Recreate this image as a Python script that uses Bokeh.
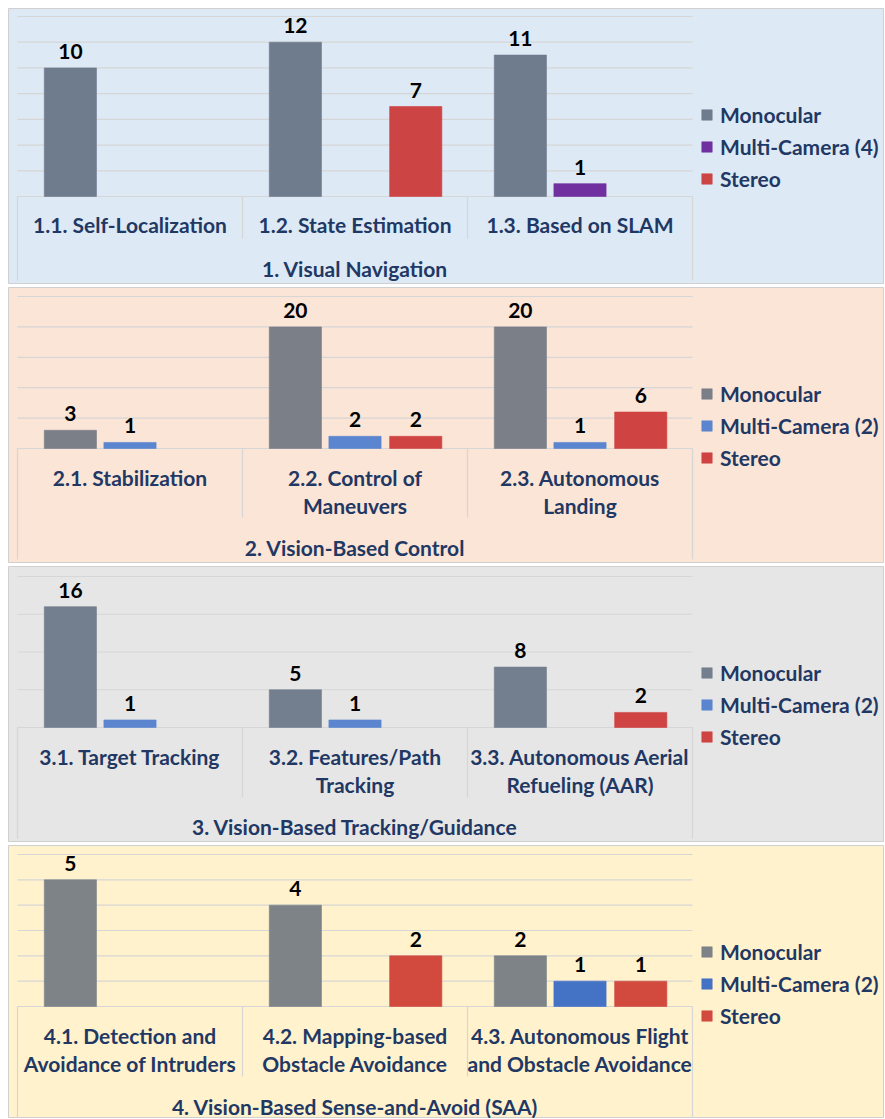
from bokeh.plotting import figure
from bokeh.models import Range1d, ColumnDataSource, Legend, LegendItem
from bokeh.layouts import column
from bokeh.embed import file_html
from bokeh.resources import INLINE
from bokeh.core.properties import value

# ---------------- data ----------------
series = ["Monocular", "Multi-Camera", "Stereo"]

p1_group = "1. Visual Navigation"
p1_categories = ["1.1. Self-Localization", "1.2. State Estimation", "1.3. Based on SLAM"]
p1_monocular = [10, 12, 11]
p1_multi = [0, 0, 1]
p1_stereo = [0, 7, 0]
p1_multi_name = "Multi-Camera (4)"
p1_ymax, p1_step = 14, 2

p2_group = "2. Vision-Based Control"
p2_categories = ["2.1. Stabilization", "2.2. Control of\nManeuvers", "2.3. Autonomous\nLanding"]
p2_monocular = [3, 20, 20]
p2_multi = [1, 2, 1]
p2_stereo = [0, 2, 6]
p2_multi_name = "Multi-Camera (2)"
p2_ymax, p2_step = 25, 5

p3_group = "3. Vision-Based Tracking/Guidance"
p3_categories = ["3.1. Target Tracking", "3.2. Features/Path\nTracking", "3.3. Autonomous Aerial\nRefueling (AAR)"]
p3_monocular = [16, 5, 8]
p3_multi = [1, 1, 0]
p3_stereo = [0, 0, 2]
p3_multi_name = "Multi-Camera (2)"
p3_ymax, p3_step = 20, 5

p4_group = "4. Vision-Based Sense-and-Avoid (SAA)"
p4_categories = ["4.1. Detection and\nAvoidance of Intruders", "4.2. Mapping-based\nObstacle Avoidance", "4.3. Autonomous Flight\nand Obstacle Avoidance"]
p4_monocular = [5, 4, 2]
p4_multi = [0, 0, 1]
p4_stereo = [0, 2, 1]
p4_multi_name = "Multi-Camera (2)"
p4_ymax, p4_step = 6, 1

# ---------------- styling ----------------
W = 876
CAT_PX = 225.0
LEFT_PX = 9.0
NAVY = "#1f3864"
FONT = "Lato"
LINE = "#d6d6d6"
OFFSETS = [-0.265, 0.0, 0.27]
BAR_W = 0.232

panels = [
    dict(group=p1_group, cats=p1_categories, vals=[p1_monocular, p1_multi, p1_stereo],
         multi=p1_multi_name, ymax=p1_ymax, step=p1_step,
         bg="#dde9f5", colors=["#6f7c8d", "#7030a0", "#cc4444"],
         h=276, gt=8, base=188, lab=216, sep=230, grp=260, tb=272),
    dict(group=p2_group, cats=p2_categories, vals=[p2_monocular, p2_multi, p2_stereo],
         multi=p2_multi_name, ymax=p2_ymax, step=p2_step,
         bg="#fbe5d6", colors=["#7b7f88", "#5b85cf", "#d04343"],
         h=276, gt=9, base=161, lab=190, sep=230, grp=260, tb=272),
    dict(group=p3_group, cats=p3_categories, vals=[p3_monocular, p3_multi, p3_stereo],
         multi=p3_multi_name, ymax=p3_ymax, step=p3_step,
         bg="#e7e6e6", colors=["#737f8e", "#5b85cf", "#cf4343"],
         h=276, gt=10, base=161, lab=190, sep=231, grp=260, tb=272),
    dict(group=p4_group, cats=p4_categories, vals=[p4_monocular, p4_multi, p4_stereo],
         multi=p4_multi_name, ymax=p4_ymax, step=p4_step,
         bg="#fff2cc", colors=["#7d8387", "#4472c4", "#d24a3e"],
         h=273, gt=9, base=161, lab=190, sep=231, grp=261, tb=273),
]

LINE_GAP = 27.5
FS_LABEL = "21px"
FS_VALUE = "21px"
FS_LEGEND = "21px"

figs = []
for P in panels:
    H = P["h"]
    upp = P["ymax"] / (P["base"] - P["gt"])  # data units per pixel
    y0 = -(H - P["base"]) * upp
    y1 = P["ymax"] + P["gt"] * upp
    ncat = len(P["cats"])
    x0 = -LEFT_PX / CAT_PX
    x1 = (W - LEFT_PX) / CAT_PX

    p = figure(width=W, height=H, x_range=Range1d(x0, x1), y_range=Range1d(y0, y1),
               x_axis_location=None, y_axis_location=None,
               toolbar_location=None, output_backend="svg",
               min_border=0, min_border_left=0, min_border_right=0,
               min_border_top=0, min_border_bottom=0)
    p.background_fill_color = P["bg"]
    p.border_fill_color = P["bg"]
    p.outline_line_color = "#d0d0d0"
    p.xgrid.visible = False
    p.ygrid.visible = False

    # grid lines
    ticks = list(range(0, P["ymax"] + 1, P["step"]))
    p.segment(x0=[0] * len(ticks), x1=[ncat] * len(ticks), y0=ticks, y1=ticks,
              line_color=LINE, line_width=1.2)

    # table lines
    sep_y = -(P["sep"] - P["base"]) * upp
    tb_y = -(P["tb"] - P["base"]) * upp
    inner = list(range(1, ncat))
    p.segment(x0=inner, x1=inner, y0=[0] * len(inner), y1=[sep_y] * len(inner),
              line_color=LINE, line_width=1.2)
    p.segment(x0=[0, ncat], x1=[0, ncat], y0=[0, 0], y1=[tb_y, tb_y],
              line_color=LINE, line_width=1.2)

    # bars
    names = [series[0], P["multi"], series[2]]
    items = []
    for k, vals in enumerate(P["vals"]):
        xs = [i + 0.5 + OFFSETS[k] for i, v in enumerate(vals) if v > 0]
        tops = [v for v in vals if v > 0]
        src = ColumnDataSource(dict(x=xs, top=tops, lab=[str(v) for v in tops]))
        r = p.vbar(x="x", top="top", bottom=0, width=BAR_W, source=src,
                   fill_color=P["colors"][k], line_color=P["colors"][k], line_alpha=0.6)
        p.text(x="x", y="top", text="lab", source=src, text_align="center",
               text_baseline="bottom", y_offset=-9, text_font=value(FONT),
               text_font_style="bold", text_font_size=FS_VALUE, text_color="black")
        items.append(LegendItem(label=names[k], renderers=[r]))

    # category labels
    lx, ly, lt = [], [], []
    for i, c in enumerate(P["cats"]):
        for j, line in enumerate(c.split("\n")):
            lx.append(i + 0.5)
            ly.append(-(P["lab"] + j * LINE_GAP - P["base"]) * upp)
            lt.append(line)
    p.text(x=lx, y=ly, text=lt, text_align="center", text_baseline="middle",
           text_font=value(FONT), text_font_style="bold", text_font_size=FS_LABEL,
           text_color=NAVY)

    # group label
    p.text(x=[ncat / 2], y=[-(P["grp"] - P["base"]) * upp], text=[P["group"]],
           text_align="center", text_baseline="middle", text_font=value(FONT),
           text_font_style="bold", text_font_size=FS_LABEL, text_color=NAVY)

    legend = Legend(items=items, location=(692, H - 183),
                    glyph_width=13, glyph_height=13, label_standoff=7, spacing=7,
                    padding=0, margin=0, border_line_alpha=0, background_fill_alpha=0,
                    label_text_font=FONT, label_text_font_style="bold",
                    label_text_font_size=FS_LEGEND, label_text_color=NAVY,
                    label_height=20)
    p.add_layout(legend)
    figs.append(p)

layout = column(*figs, spacing=3, margin=(8, 0, 0, 8))
open("out.html", "w").write(file_html(layout, INLINE))
